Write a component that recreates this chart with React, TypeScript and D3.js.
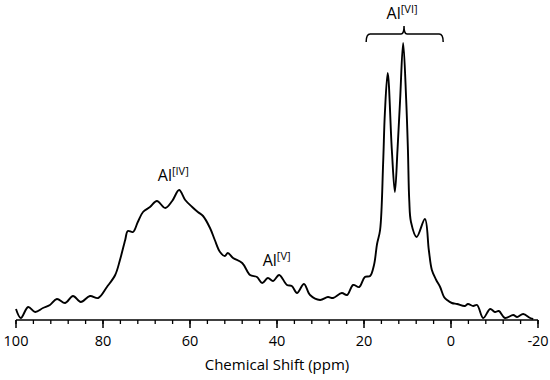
import React from "react";
import * as d3 from "d3";

// Chemical shift (ppm) and intensity (a.u.)
const shifts: number[] = [
  100.0, 98.9, 97.2, 95.6, 93.8, 92.2, 90.6, 88.7, 86.9, 85.1, 83.0, 81.1, 79.1, 77.2, 76.1, 74.9,
  74.3, 73.1, 72.0, 70.8, 69.2, 67.6, 65.7, 64.1, 62.5, 61.1, 59.5, 58.2, 57.0, 55.4, 54.3, 53.1,
  52.0, 51.3, 50.1, 48.0, 46.2, 44.6, 43.4, 42.1, 40.9, 39.5, 37.7, 36.6, 35.4, 33.8, 32.4, 30.1,
  28.3, 27.1, 25.1, 23.9, 22.5, 21.1, 19.8, 18.6, 17.7, 17.0, 16.3, 15.6, 15.2, 14.55, 13.6, 12.9,
  12.3, 11.7, 11.0, 10.3, 9.9, 9.6, 9.2, 7.9, 6.0, 5.1, 4.4, 3.4, 2.5, 1.6, 0.9, -0.2,
  -1.4, -3.2, -3.9, -5.1, -6.0, -7.4, -9.0, -10.1, -11.0, -12.4, -14.3, -15.2, -16.6, -18.2, -18.9,
];
const intensities: number[] = [
  11, 2, 13, 8, 12, 15, 21, 17, 24, 18, 24, 22, 33, 45, 60, 80,
  89, 88, 98, 108, 113, 119, 112, 119, 130, 120, 113, 108, 104, 92, 80, 68,
  64, 67, 62, 57, 45, 43, 37, 42, 39, 45, 35, 34, 27, 36, 25, 20,
  23, 22, 27, 25, 35, 33, 43, 44, 55, 76, 90, 157, 207, 247, 170, 128,
  170, 220, 277, 220, 170, 120, 98, 83, 101, 70, 50, 40, 33, 23, 20, 17,
  16, 14, 16, 14, 15, 2, 11, 8, 9, 2, 5, 3, 6, 2, 1,
];

const xTicks: number[] = [100, 80, 60, 40, 20, 0, -20];
const xMinorTicks: number[] = d3.range(100, -20.01, -4);

// Annotations
const labelNames: string[] = ["Al", "Al", "Al"];
const labelSups: string[] = ["[IV]", "[V]", "[VI]"];
const labelShifts: number[] = [67.4, 43.3, 14.8];
const labelIntensities: number[] = [139, 54, 301];
const bracketRange: number[] = [19.5, 1.8];
const bracketCenter = 10.8;
const bracketIntensity = 286;

const W = 550;
const H = 380;
const font = "'Open Sans', sans-serif";

export default function App() {
  const x = d3.scaleLinear().domain([100, -20]).range([16, 538]);
  const y = d3.scaleLinear().domain([0, 278]).range([320, 42]);

  const data = shifts.map((s, i) => ({ s, v: intensities[i] }));
  const line = d3
    .line<{ s: number; v: number }>()
    .x((d) => x(d.s))
    .y((d) => y(d.v))
    .curve(d3.curveCatmullRom.alpha(0.5));

  const axisY = y(0);
  const bx1 = x(bracketRange[0]);
  const bx2 = x(bracketRange[1]);
  const bxc = x(bracketCenter);
  const by = y(bracketIntensity);
  const bracketPath = `M${bx1},${by + 8} Q${bx1},${by} ${bx1 + 4},${by} L${bxc - 3},${by} Q${bxc},${by} ${bxc},${by - 8} Q${bxc},${by} ${bxc + 3},${by} L${bx2 - 4},${by} Q${bx2},${by} ${bx2},${by + 8}`;

  return (
    <svg
      width={W}
      height={H}
      style={{ position: "absolute", left: 0, top: 0, background: "#fff" }}
      fontFamily={font}
    >
      <path d={line(data) || ""} fill="none" stroke="#000" strokeWidth={1.9} strokeLinejoin="round" />

      {/* x axis */}
      <line x1={x(100)} x2={x(-20)} y1={axisY} y2={axisY} stroke="#000" strokeWidth={1.5} />
      {xMinorTicks.map((t) => (
        <line key={"m" + t} x1={x(t)} x2={x(t)} y1={axisY} y2={axisY + 4} stroke="#000" strokeWidth={1.3} />
      ))}
      {xTicks.map((t) => (
        <g key={"t" + t}>
          <line x1={x(t)} x2={x(t)} y1={axisY} y2={axisY + 8} stroke="#000" strokeWidth={1.5} />
          <text x={x(t)} y={346} textAnchor="middle" fontSize={14.5} fill="#000">
            {t}
          </text>
        </g>
      ))}
      <text x={(x(100) + x(-20)) / 2} y={370} textAnchor="middle" fontSize={15} fill="#000">
        Chemical Shift (ppm)
      </text>

      {/* labels */}
      {labelNames.map((n, i) => (
        <text key={"l" + i} x={x(labelShifts[i])} y={y(labelIntensities[i])} fontSize={16} fill="#000">
          {n}
          <tspan fontSize={11} dy={-6}>
            {labelSups[i]}
          </tspan>
        </text>
      ))}

      {/* bracket */}
      <path d={bracketPath} fill="none" stroke="#000" strokeWidth={1.5} />
    </svg>
  );
}
